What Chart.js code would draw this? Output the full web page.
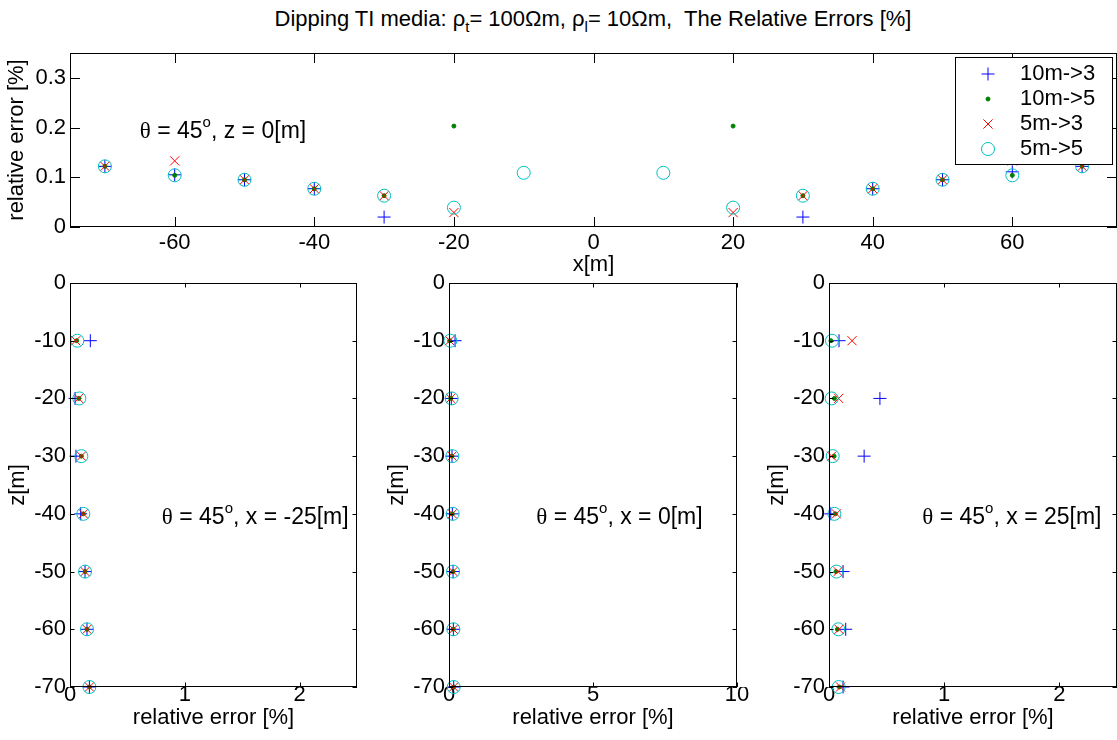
<!DOCTYPE html>
<html>
<head>
<meta charset="utf-8">
<title>Dipping TI media</title>
<script src="https://cdn.jsdelivr.net/npm/chart.js@4.4.0/dist/chart.umd.min.js"></script>
<style>
    body {
        margin: 0;
        background: #fff;
        width: 1117px;
        height: 740px;
        overflow: hidden;
        position: relative;
        font-family: "Liberation Sans", Arial, sans-serif;
    }

    canvas {
        position: absolute;
        left: 0;
        top: 0;
    }

    #titulo {
        position: absolute;
        top: 8px;
        left: 0;
        width: 1186px;
        text-align: center;
        font-size: 22px;
        line-height: 22px;
        white-space: pre;
    }

    #titulo sub {
        font-size: 15px;
        vertical-align: -6px;
    }
</style>
</head>
<body>
<div id="titulo">Dipping TI media: ρ<sub>t</sub>= 100Ωm, ρ<sub>l</sub>= 10Ωm,  The Relative Errors [%]</div>
<canvas id="graficoTopo" width="1117" height="740"></canvas>
<canvas id="graficoEsq" width="1117" height="740"></canvas>
<canvas id="graficoMeio" width="1117" height="740"></canvas>
<canvas id="graficoDir" width="1117" height="740"></canvas>

<script>
// series (legend order)
const nomesSeries = ['10m->3', '10m->5', '5m->3', '5m->5'];

// top plot: z = 0, error along x
const posX = [-70, -60, -50, -40, -30, -20, -10, 10, 20, 30, 40, 50, 60, 70];
const topo10m3 = [0.122, 0.105, 0.095, 0.077, 0.020, null, null, null, null, 0.020, 0.077, 0.095, 0.111, 0.122];
const topo10m5 = [0.122, 0.104, 0.095, 0.077, 0.063, 0.203, null, null, 0.203, 0.063, 0.077, 0.095, 0.104, 0.122];
const topo5m3 = [0.122, 0.133, 0.095, 0.077, 0.063, 0.029, null, null, 0.029, 0.063, 0.077, 0.095, 0.133, 0.122];
const topo5m5 = [0.122, 0.104, 0.095, 0.077, 0.063, 0.039, 0.109, 0.109, 0.039, 0.063, 0.077, 0.095, 0.104, 0.122];

// bottom plots: error along z
const posZ = [-10, -20, -30, -40, -50, -60, -70];

// x = -25
const esq10m3 = [0.177, 0.044, 0.052, 0.093, 0.131, 0.148, 0.169];
const esq10m5 = [0.058, 0.076, 0.099, 0.116, 0.131, 0.148, 0.169];
const esq5m3 = [0.050, 0.076, 0.099, 0.116, 0.131, 0.148, 0.169];
const esq5m5 = [0.064, 0.081, 0.099, 0.116, 0.131, 0.148, 0.169];

// x = 0
const meio10m3 = [0.21, 0.08, 0.105, 0.116, 0.14, 0.151, 0.163];
const meio10m5 = [0.023, 0.058, 0.105, 0.116, 0.14, 0.151, 0.163];
const meio5m3 = [0.023, 0.058, 0.105, 0.116, 0.14, 0.151, 0.163];
const meio5m5 = [0.047, 0.093, 0.116, 0.128, 0.14, 0.151, 0.163];

// x = 25
const dir10m3 = [0.087, 0.442, 0.305, 0.015, 0.122, 0.145, 0.122];
const dir10m5 = [0.017, 0.047, 0.044, 0.055, 0.061, 0.073, 0.090];
const dir5m3 = [0.200, 0.084, 0.023, 0.064, 0.078, 0.087, 0.100];
const dir5m5 = [0.026, 0.023, 0.032, 0.047, 0.064, 0.081, 0.084];

// tick labels
const ticksXTopo = [-60, -40, -20, 0, 20, 40, 60];
const ticksYTopo = [0, 0.1, 0.2, 0.3];
const ticksZ = [0, -10, -20, -30, -40, -50, -60, -70];
const ticksErro = [0, 1, 2];
const ticksErroMeio = [0, 5, 10];

// marker styles (matlab 'b+', 'g.', 'rx', 'co')
const coresSeries = ['rgb(0,0,255)', 'rgb(0,128,0)', 'rgb(255,0,0)', 'rgb(0,191,191)'];
const estilosSeries = ['cross', 'circle', 'crossRot', 'circle'];
const raiosSeries = [6.5, 2, 6.5, 6.5];

const fonteTexto = '"Liberation Sans", Arial, sans-serif';
const fonteEixo = { family: fonteTexto, size: 22, lineHeight: 1 };

// box + inward ticks like matlab
const pluginEixos = {
    id: 'eixos',
    afterDatasetsDraw(chart, args, opts) {
        const { ctx, chartArea: a, scales } = chart;
        const tam = opts.tam;
        ctx.save();
        ctx.strokeStyle = '#000';
        ctx.lineWidth = 1;
        ctx.beginPath();
        scales.x.ticks.forEach(function (t) {
            const px = Math.round(scales.x.getPixelForValue(t.value)) + 0.5;
            ctx.moveTo(px, a.bottom);
            ctx.lineTo(px, a.bottom - tam);
            ctx.moveTo(px, a.top);
            ctx.lineTo(px, a.top + tam);
        });
        scales.y.ticks.forEach(function (t) {
            const py = Math.round(scales.y.getPixelForValue(t.value)) + 0.5;
            ctx.moveTo(a.left, py);
            ctx.lineTo(a.left + tam, py);
            ctx.moveTo(a.right, py);
            ctx.lineTo(a.right - tam, py);
        });
        ctx.stroke();
        ctx.strokeRect(a.left + 0.5, a.top + 0.5, a.right - a.left - 1, a.bottom - a.top - 1);
        ctx.restore();
    }
};

// "theta = 45o, ..." text placed in data coordinates
const pluginAnotacao = {
    id: 'anotacao',
    afterDraw(chart, args, opts) {
        const { ctx, scales } = chart;
        let x = scales.x.getPixelForValue(opts.x);
        const y = scales.y.getPixelForValue(opts.y);
        ctx.save();
        ctx.fillStyle = '#000';
        ctx.textBaseline = 'middle';
        ctx.textAlign = 'left';
        ctx.font = '23px "Liberation Serif", "Times New Roman", serif';
        ctx.fillText('θ', x, y);
        x += ctx.measureText('θ').width;
        ctx.font = '23px ' + fonteTexto;
        ctx.fillText(' = 45', x, y);
        x += ctx.measureText(' = 45').width;
        ctx.font = '15px ' + fonteTexto;
        ctx.fillText('o', x, y - 9);
        x += ctx.measureText('o').width;
        ctx.font = '23px ' + fonteTexto;
        ctx.fillText(opts.texto, x, y);
        ctx.restore();
    }
};

const pluginLegenda = {
    id: 'legenda',
    afterDraw(chart, args, opts) {
        if (!opts.mostrar) return;
        const { ctx, chartArea: a } = chart;
        const caixa = { x: a.right - 162, y: a.top + 4, w: 157, h: 107 };
        ctx.save();
        ctx.fillStyle = '#fff';
        ctx.fillRect(caixa.x, caixa.y, caixa.w, caixa.h);
        ctx.strokeStyle = '#000';
        ctx.lineWidth = 1;
        ctx.strokeRect(caixa.x + 0.5, caixa.y + 0.5, caixa.w, caixa.h);
        chart.data.datasets.forEach(function (ds, i) {
            const yy = caixa.y + 17 + i * 25;
            ctx.strokeStyle = ds.borderColor;
            ctx.fillStyle = ds.backgroundColor;
            ctx.lineWidth = 1;
            Chart.helpers.drawPoint(ctx, { pointStyle: ds.pointStyle, radius: ds.pointRadius, rotation: 0, borderWidth: 1 }, caixa.x + 33, yy);
            ctx.fillStyle = '#000';
            ctx.font = '22px ' + fonteTexto;
            ctx.textBaseline = 'middle';
            ctx.fillText(ds.label, caixa.x + 65, yy);
        });
        ctx.restore();
    }
};

function eixo(min, max, ticks, titulo, horizontal, tickPad, tituloPad) {
    return {
        type: 'linear',
        min: min,
        max: max,
        position: horizontal ? 'bottom' : 'left',
        grid: { display: false, drawTicks: false },
        border: { display: false },
        ticks: {
            color: '#000',
            font: fonteEixo,
            padding: tickPad,
            autoSkip: false,
            maxRotation: 0,
            callback: function (v) { return String(v); }
        },
        title: { display: true, text: titulo, color: '#000', font: fonteEixo, padding: tituloPad },
        afterBuildTicks: function (s) {
            s.ticks = ticks.map(function (v) { return { value: v }; });
        },
        afterFit: function (s) {
            if (horizontal) s.height = 50; else s.width = 70;
            s.paddingLeft = 0; s.paddingRight = 0; s.paddingTop = 0; s.paddingBottom = 0;
        }
    };
}

function criarGrafico(idCanvas, cfg) {
    const datasets = cfg.series.map(function (valores, i) {
        const pontos = [];
        cfg.posicoes.forEach(function (p, j) {
            if (valores[j] === null) return;
            pontos.push(cfg.vertical ? { x: valores[j], y: p } : { x: p, y: valores[j] });
        });
        return {
            label: nomesSeries[i],
            data: pontos,
            showLine: false,
            clip: false,
            order: 4 - i,
            pointStyle: estilosSeries[i],
            pointRadius: raiosSeries[i],
            pointHoverRadius: raiosSeries[i],
            borderColor: coresSeries[i],
            backgroundColor: i === 1 ? coresSeries[i] : 'rgba(0,0,0,0)',
            borderWidth: 1
        };
    });

    new Chart(document.getElementById(idCanvas), {
        type: 'scatter',
        data: { datasets: datasets },
        options: {
            responsive: false,
            animation: false,
            events: [],
            devicePixelRatio: 1,
            layout: { autoPadding: false, padding: cfg.padding },
            plugins: {
                legend: { display: false },
                tooltip: { enabled: false },
                eixos: { tam: cfg.tamTick },
                anotacao: cfg.anotacao,
                legenda: { mostrar: !!cfg.legenda }
            },
            scales: { x: cfg.eixoX, y: cfg.eixoY }
        },
        plugins: [pluginEixos, pluginAnotacao, pluginLegenda]
    });
}

criarGrafico('graficoTopo', {
    series: [topo10m3, topo10m5, topo5m3, topo5m5],
    posicoes: posX,
    vertical: false,
    padding: { left: 0, right: 0, top: 53, bottom: 463 },
    tamTick: 10,
    legenda: true,
    anotacao: { x: -65, y: 0.191, texto: ', z = 0[m]' },
    eixoX: eixo(-75, 75, ticksXTopo, 'x[m]', true, 5, { top: 0, bottom: 1 }),
    eixoY: eixo(0, 0.35, ticksYTopo, 'relative error [%]', false, 4, { top: 6, bottom: 0 })
});

criarGrafico('graficoEsq', {
    series: [esq10m3, esq10m5, esq5m3, esq5m5],
    posicoes: posZ,
    vertical: true,
    padding: { left: 0, right: 760, top: 283, bottom: 3 },
    tamTick: 4.5,
    anotacao: { x: 0.8, y: -40.7, texto: ', x = -25[m]' },
    eixoX: eixo(0, 2.5, ticksErro, 'relative error [%]', true, -3, { top: 0, bottom: 8 }),
    eixoY: eixo(-70, 0, ticksZ, 'z[m]', false, 4, { top: 7, bottom: 0 })
});

criarGrafico('graficoMeio', {
    series: [meio10m3, meio10m5, meio5m3, meio5m5],
    posicoes: posZ,
    vertical: true,
    padding: { left: 379, right: 380, top: 283, bottom: 3 },
    tamTick: 4.5,
    anotacao: { x: 3.03, y: -40.7, texto: ', x = 0[m]' },
    eixoX: eixo(0, 10, ticksErroMeio, 'relative error [%]', true, -3, { top: 0, bottom: 8 }),
    eixoY: eixo(-70, 0, ticksZ, 'z[m]', false, 4, { top: 7, bottom: 0 })
});

criarGrafico('graficoDir', {
    series: [dir10m3, dir10m5, dir5m3, dir5m5],
    posicoes: posZ,
    vertical: true,
    padding: { left: 759, right: 0, top: 283, bottom: 3 },
    tamTick: 4.5,
    anotacao: { x: 0.81, y: -40.7, texto: ', x = 25[m]' },
    eixoX: eixo(0, 2.5, ticksErro, 'relative error [%]', true, -3, { top: 0, bottom: 8 }),
    eixoY: eixo(-70, 0, ticksZ, 'z[m]', false, 4, { top: 7, bottom: 0 })
});
</script>
</body>
</html>
